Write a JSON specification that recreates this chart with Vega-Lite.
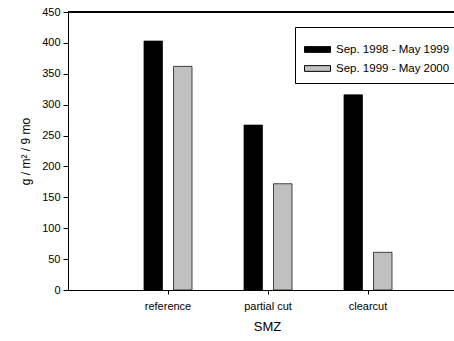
{
  "$schema": "https://vega.github.io/schema/vega-lite/v6.json",
  "autosize": "none",
  "padding": {"left": 68, "top": 12, "right": 0, "bottom": 51},
  "width": 386,
  "height": 278,
  "background": "white",
  "config": {
    "font": "Liberation Sans",
    "view": {"stroke": null},
    "axis": {"grid": false, "domainColor": "black", "tickColor": "black", "labelColor": "black", "titleColor": "black", "labelFont": "Liberation Sans", "titleFont": "Liberation Sans", "titleFontWeight": "normal"}
  },
  "data": {
    "values": [
      {"smz": "reference", "period": "Sep. 1998 - May 1999", "value": 403},
      {"smz": "reference", "period": "Sep. 1999 - May 2000", "value": 362},
      {"smz": "partial cut", "period": "Sep. 1998 - May 1999", "value": 267},
      {"smz": "partial cut", "period": "Sep. 1999 - May 2000", "value": 172},
      {"smz": "clearcut", "period": "Sep. 1998 - May 1999", "value": 316},
      {"smz": "clearcut", "period": "Sep. 1999 - May 2000", "value": 61}
    ]
  },
  "encoding": {
    "y": {
      "field": "value",
      "type": "quantitative",
      "scale": {"domain": [0, 450], "nice": false},
      "axis": {
        "title": "g / m² / 9 mo",
        "titleFontSize": 12,
        "titleX": -43,
        "titleY": 139,
        "titleAlign": "center",
        "titleBaseline": "middle",
        "values": [0, 50, 100, 150, 200, 250, 300, 350, 400, 450],
        "labelFontSize": 11,
        "labelPadding": 3,
        "tickSize": 5
      }
    }
  },
  "layer": [
    {
      "mark": {"type": "bar", "stroke": "black", "strokeWidth": 1, "strokeOpacity": 0.7},
      "encoding": {
        "x": {
          "field": "smz",
          "type": "nominal",
          "sort": ["reference", "partial cut", "clearcut"],
          "scale": {"paddingInner": 0, "paddingOuter": 0.43, "align": 0.5814},
          "axis": {
            "title": "SMZ",
            "titleFontSize": 13,
            "titleX": 199,
            "titleY": 36,
            "titleAlign": "center",
            "titleBaseline": "middle",
            "labelAngle": 0,
            "labelFontSize": 11,
            "labelPadding": 6,
            "tickSize": 4,
            "domain": true
          }
        },
        "xOffset": {
          "field": "period",
          "type": "nominal",
          "scale": {"paddingInner": 0.373, "paddingOuter": 0.88}
        },
        "fill": {
          "field": "period",
          "type": "nominal",
          "scale": {"range": ["#000000", "#c0c0c0"]},
          "legend": {
            "title": null,
            "orient": "none",
            "legendX": 227,
            "legendY": 15,
            "direction": "vertical",
            "labelFontSize": 11.5,
            "labelColor": "black",
            "symbolType": "M-1,-0.22H1V0.22H-1Z",
            "symbolSize": 676,
            "symbolStrokeColor": "black",
            "symbolStrokeWidth": 1,
            "rowPadding": 0,
            "labelOffset": 5,
            "strokeColor": "black",
            "padding": 9,
            "fillColor": "white"
          }
        }
      }
    },
    {
      "mark": {"type": "rule", "color": "black", "strokeWidth": 1},
      "encoding": {"y": {"datum": 450}}
    }
  ]
}
